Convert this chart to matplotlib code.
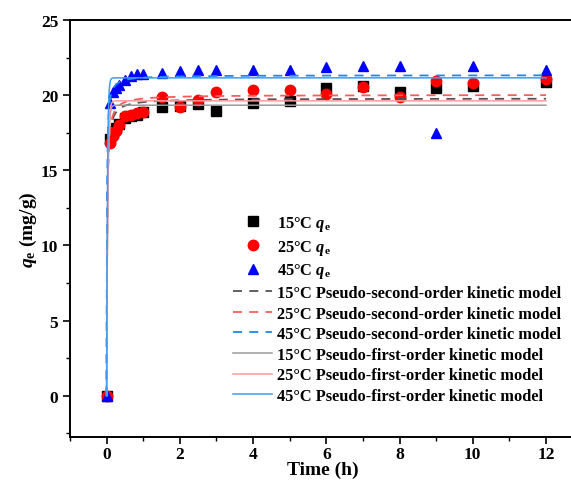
import numpy as np
import matplotlib
matplotlib.use("Agg")
import matplotlib.pyplot as plt
from matplotlib.ticker import MultipleLocator

plt.rcParams['font.family'] = ['Liberation Serif', 'DejaVu Serif']
plt.rcParams['font.weight'] = 'bold'
plt.rcParams['mathtext.fontset'] = 'custom'
plt.rcParams['mathtext.rm'] = 'Liberation Serif:bold'
plt.rcParams['mathtext.it'] = 'Liberation Serif:italic:bold'
plt.rcParams['mathtext.bf'] = 'Liberation Serif:bold'

# ---- data ----
time_h = [0, 0.083, 0.167, 0.25, 0.333, 0.5, 0.667, 0.833, 1.0,
          1.5, 2, 2.5, 3, 4, 5, 6, 7, 8, 9, 10, 12]
q_15 = [0, 17.1, 17.5, 17.8, 18.1, 18.5, 18.6, 18.7, 18.9,
        19.2, 19.3, 19.4, 18.95, 19.5, 19.6, 20.5, 20.6, 20.2, 20.5, 20.6, 20.9]
q_25 = [0, 16.8, 17.3, 17.6, 18.0, 18.6, 18.7, 18.8, 18.9,
        19.9, 19.2, 19.7, 20.2, 20.35, 20.35, 20.1, 20.55, 19.9, 20.95, 20.8, 21.07]
q_45 = [0, 19.5, 20.2, 20.5, 20.7, 21.0, 21.3, 21.4, 21.4,
        21.5, 21.6, 21.7, 21.7, 21.7, 21.7, 21.9, 21.95, 21.95, 17.45, 21.95, 21.7]

temps = ['15°C', '25°C', '45°C']
# pseudo-second-order parameters: qe (mg/g), k2
pso_qe = [19.78, 20.02, 21.33]
pso_k2 = [4.0, 4.0, 6.0]
# pseudo-first-order parameters: qe (mg/g), k1 (1/h)
pfo_qe = [19.33, 19.62, 21.15]
pfo_k1 = [35.0, 35.0, 45.0]

marker_colors = ['#000000', '#ff0000', '#0000ff']
markers = ['s', 'o', '^']
pso_colors = ['#555555', '#ff5a5a', '#1e88f0']
pfo_colors = ['#9a9a9a', '#ff9a9a', '#3d9cf5']

fig = plt.figure(figsize=(5.71, 4.81), dpi=100)
W, H = 571, 481
ax = fig.add_axes([70 / W, (H - 438) / H, 506 / W, (438 - 21) / H])

t = np.linspace(0, 12, 3000)

handles = []
for q, c, m, tl in zip([q_15, q_25, q_45], marker_colors, markers, temps):
    h, = ax.plot(time_h, q, linestyle='none', marker=m, color=c,
                 markersize=7.5 if m != 's' else 7, label=tl + r' $q_\mathrm{e}$', zorder=2)
    handles.append(h)

for qe, k, c, tl in zip(pso_qe, pso_k2, pso_colors, temps):
    y = qe ** 2 * k * t / (1 + qe * k * t)
    h, = ax.plot(t, y, linestyle=(0, (5, 4)), color=c, lw=1.3,
                 label=tl + ' Pseudo-second-order kinetic model', zorder=3)
    handles.append(h)

for qe, k, c, tl in zip(pfo_qe, pfo_k1, pfo_colors, temps):
    y = qe * (1 - np.exp(-k * t))
    h, = ax.plot(t, y, linestyle='-', color=c, lw=1.1,
                 label=tl + ' Pseudo-first-order kinetic model', zorder=3)
    handles.append(h)

ax.set_xlim(-1, 12.82)
ax.set_ylim(-2.75, 25)
ax.xaxis.set_major_locator(MultipleLocator(2))
ax.xaxis.set_minor_locator(MultipleLocator(1))
ax.yaxis.set_major_locator(MultipleLocator(5))
ax.yaxis.set_minor_locator(MultipleLocator(2.5))
ax.tick_params(which='major', direction='out', length=5, width=1.2, labelsize=12.5)
ax.tick_params(which='minor', direction='out', length=3, width=1.0)
ax.tick_params(axis='x', which='major', pad=1.5)
for s in ax.spines.values():
    s.set_linewidth(1.4)

ax.set_xlabel('Time (h)', fontsize=14, fontweight='bold', labelpad=-1)
ax.set_ylabel(r'$q_\mathrm{e}$ (mg/g)', fontsize=14, fontweight='bold', labelpad=1)

leg = ax.legend(handles=handles, loc='upper left', bbox_to_anchor=(0.31, 0.55),
                frameon=False, fontsize=11.8, handlelength=2.35, handletextpad=0.3,
                labelspacing=0.28, borderaxespad=0)

fig.savefig('out.png', dpi=100)
